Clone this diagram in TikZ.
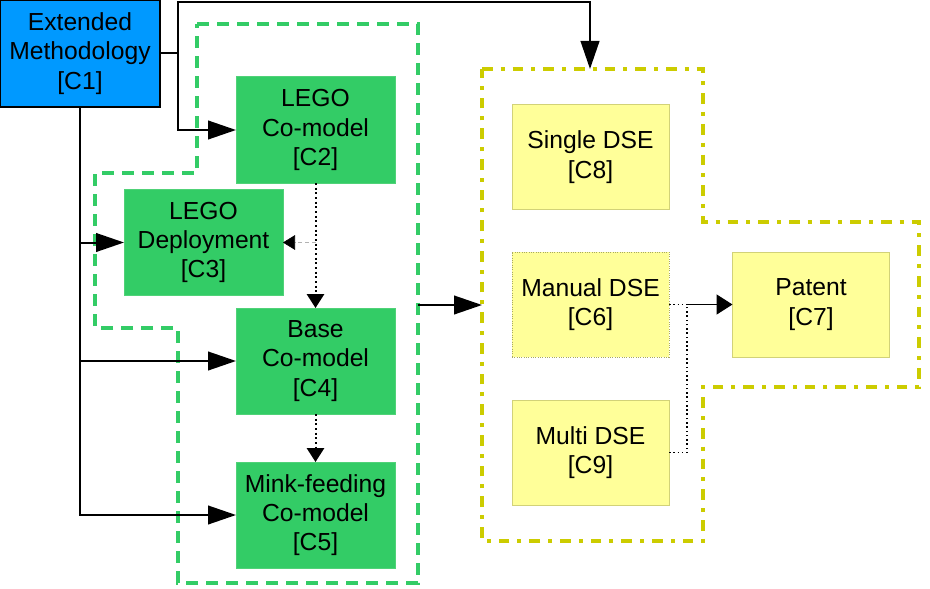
\documentclass[tikz,border=0pt]{standalone}
\usepackage{fontspec}
\setmainfont{Liberation Sans}
\usetikzlibrary{arrows.meta}
\definecolor{cblue}{RGB}{0,153,255}
\definecolor{cgreen}{RGB}{51,204,102}
\definecolor{cgreenb}{RGB}{80,210,120}
\definecolor{cyel}{RGB}{255,255,153}
\definecolor{cyelb}{RGB}{210,210,120}
\definecolor{cdash}{RGB}{204,204,0}
\tikzset{
  box/.style={draw, line width=0.75pt, align=center, inner sep=0pt, outer sep=0pt,
    font=\fontsize{18.5}{22}\selectfont},
  bluebox/.style={box, fill=cblue, draw=black, line width=1.2pt, minimum width=120pt, minimum height=80.25pt},
  greenbox/.style={box, fill=cgreen, draw=cgreenb, minimum width=119.25pt, minimum height=79.5pt},
  yelbox/.style={box, fill=cyel, draw=cyelb, minimum width=117.75pt, minimum height=78.75pt},
  bigarr/.style={line width=1.5pt, -{Triangle[length=21pt,width=14pt]}},
  solidline/.style={line width=1.5pt},
  dotarr/.style={line width=1.5pt, dotted, -{Triangle[length=10.5pt,width=13pt]}},
  dotline/.style={line width=1.2pt, dotted},
  grayarr/.style={line width=0.5pt, densely dashed, gray!60, -{Triangle[length=9pt,width=11pt,fill=black,color=black]}},
  greenregion/.style={draw=cgreen, line width=3pt, dash pattern=on 9pt off 6pt},
  yelregion/.style={draw=cdash, line width=3pt, dash pattern=on 8pt off 6pt on 3pt off 6pt},
}
\begin{document}
\begin{tikzpicture}[x=0.75pt,y=-0.75pt]
\useasboundingbox (0,0) rectangle (930,588);
% regions
\draw[greenregion] (197,24) -- (418,24) -- (418,583) -- (178,583) -- (178,328) -- (95,328) -- (95,173) -- (197,173) -- cycle;
\draw[yelregion] (482,69) -- (703,69) -- (703,222) -- (919,222) -- (919,387) -- (703,387) -- (703,541) -- (482,541) -- cycle;
% nodes
\node[bluebox] (C1) at (80,53.5) {Extended\\Methodology\\{}[C1]};
\node[greenbox] (C2) at (315.5,130) {LEGO\\Co-model\\{}[C2]};
\node[greenbox] (C3) at (203.5,242.5) {LEGO\\Deployment\\{}[C3]};
\node[greenbox] (C4) at (315.5,361) {Base\\Co-model\\{}[C4]};
\node[greenbox] (C5) at (315.5,515) {Mink-feeding\\Co-model\\{}[C5]};
\node[yelbox] (C8) at (590.5,157) {Single DSE\\{}[C8]};
\node[yelbox, densely dotted, draw=cyelb!80!black] (C6) at (590.5,304.5) {Manual DSE\\{}[C6]};
\node[yelbox] (C9) at (590.5,452.5) {Multi DSE\\{}[C9]};
\node[yelbox] (C7) at (811,304.5) {Patent\\{}[C7]};
% coordinates
\coordinate (j1) at (178,53.5);
\coordinate (top) at (590,2);
\coordinate (ytop) at (590,69);
\coordinate (gout) at (418,305);
\coordinate (yin) at (482,305);
\coordinate (j2) at (687,304.5);
% connectors
\draw[solidline] (C1.east) -- (j1);
\draw[bigarr] (j1) |- (C2.west);
\draw[bigarr] (j1) |- (top) -- (ytop);
\draw[bigarr] (C1.south) |- (C5.west);
\draw[bigarr] (C1.south |- C3.west) -- (C3.west);
\draw[bigarr] (C1.south |- C4.west) -- (C4.west);
\draw[dotarr] (C2.south) -- (C4.north);
\draw[grayarr] (C2.south |- C3.east) -- (C3.east);
\draw[dotarr] (C4.south) -- (C5.north);
\draw[bigarr] (gout) -- (yin);
\draw[dotline] (C6.east) -- (j2);
\draw[dotline] (C9.east) -| (j2);
\draw[line width=1.2pt, -{Triangle[length=12pt,width=15pt]}] (j2) -- (C7.west);
\end{tikzpicture}
\end{document}
